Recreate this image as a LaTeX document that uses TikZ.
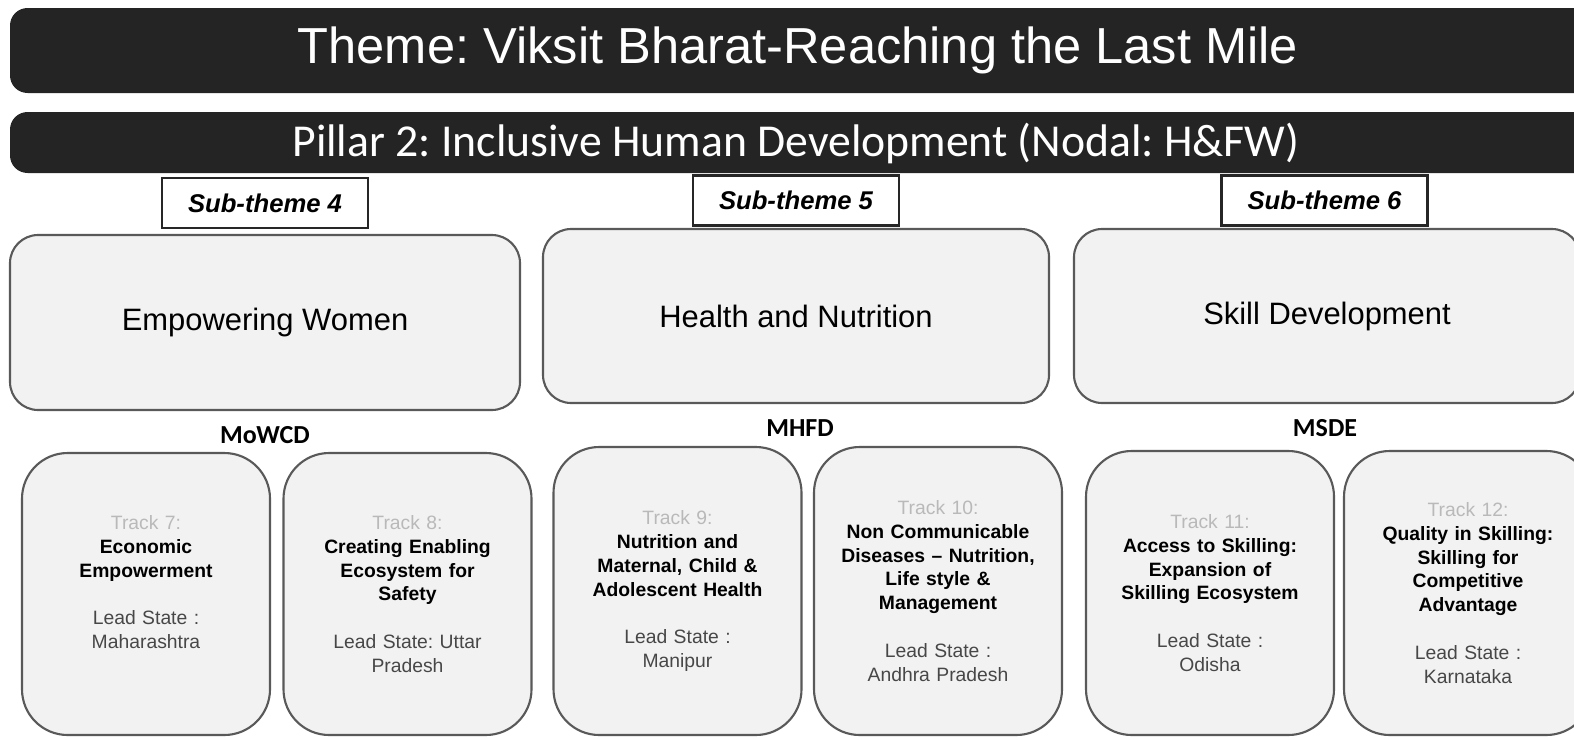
\documentclass[tikz,border=0pt]{standalone}
\usepackage{fontspec}
\setmainfont{Liberation Sans}
\newfontfamily\calibfont{Carlito}
\frenchspacing
\newcommand{\trk}[3]{{\color{gray!55}#1}\\{\bfseries #2}\\[6.8pt]{\color{black!72}#3}}
\begin{document}
\begin{tikzpicture}[
		banner/.style={fill=black!86, rounded corners=5pt},
		bannertext/.style={text=white, inner sep=0pt},
		subbox/.style={draw=black!85, line width=0.7pt, fill=white, minimum width=2.06cm, minimum height=0.5cm, font=\fontsize{7.3}{8.5}\selectfont\bfseries\itshape},
		themebox/.style={draw=black!65, line width=0.6pt, fill=gray!10, rounded corners=8pt, font=\fontsize{8.8}{10}\selectfont},
		trackbox/.style={draw=black!65, line width=0.6pt, fill=gray!10, rounded corners=13pt, inner sep=1pt, minimum width=2.48cm, text width=2.2cm, align=center, font=\fontsize{5.5}{6.8}\selectfont},
		ministry/.style={font=\calibfont\bfseries\fontsize{7.4}{8.5}\selectfont}
	]
		\useasboundingbox (0, 0) rectangle (15.74, -7.39);
		\fill[white] (0, 0) rectangle (15.74, -7.39);
		\clip (0, 0) rectangle (15.74, -7.39);
		\fill[banner] (0.10, -0.08) rectangle (16.2, -0.93);
		\node[bannertext, font=\fontsize{14.4}{16}\selectfont] (theme) at (7.98, -0.50) {Theme: Viksit Bharat-Reaching the Last Mile};
		\fill[banner] (0.10, -1.12) rectangle (16.2, -1.73);
		\node[bannertext, font=\calibfont\fontsize{13}{15}\selectfont] (pillar) at (7.96, -1.43) {Pillar 2: Inclusive Human Development (Nodal: H\&FW)};
		
		\node[subbox] (st4) at (2.65, -2.03) {Sub-theme 4};
		\node[subbox] (st5) at (7.96, -2.005) {Sub-theme 5};
		\node[subbox] (st6) at (13.245, -2.005) {Sub-theme 6};
		
		\node[themebox, minimum width=5.10cm, minimum height=1.75cm] (women) at (2.65, -3.225) {Empowering Women};
		\node[themebox, minimum width=5.06cm, minimum height=1.74cm] (health) at (7.96, -3.16) {Health and Nutrition};
		\node[themebox, minimum width=5.06cm, minimum height=1.74cm] (skill) at (13.27, -3.16) {Skill Development};
		
		\node[ministry] (mowcd) at (2.65, -4.35) {MoWCD};
		\node[ministry] (mhfd) at (8.0, -4.28) {MHFD};
		\node[ministry] (msde) at (13.25, -4.28) {MSDE};
		
		\node[trackbox, minimum height=2.82cm] (t7) at (1.46, -5.94) {\trk{Track 7:}{Economic\\Empowerment}{Lead State :\\Maharashtra}\\~};
		\node[trackbox, minimum height=2.82cm] (t8) at (4.075, -5.94) {\trk{Track 8:}{Creating Enabling\\Ecosystem for\\Safety}{Lead State: Uttar\\Pradesh}};
		\node[trackbox, minimum height=2.88cm] (t9) at (6.775, -5.91) {\trk{Track 9:}{Nutrition and\\Maternal, Child \&\\Adolescent Health}{Lead State :\\Manipur}};
		\node[trackbox, minimum height=2.88cm] (t10) at (9.38, -5.91) {\trk{Track 10:}{Non Communicable\\Diseases -- Nutrition,\\Life style \&\\Management}{Lead State :\\Andhra Pradesh}};
		\node[trackbox, minimum height=2.84cm] (t11) at (12.10, -5.93) {\trk{Track 11:}{Access to Skilling:\\Expansion of\\Skilling Ecosystem}{Lead State :\\Odisha}};
		\node[trackbox, minimum height=2.84cm] (t12) at (14.68, -5.93) {\trk{Track 12:}{Quality in Skilling:\\Skilling for\\Competitive\\Advantage}{Lead State :\\Karnataka}};
	\end{tikzpicture}
\end{document}
